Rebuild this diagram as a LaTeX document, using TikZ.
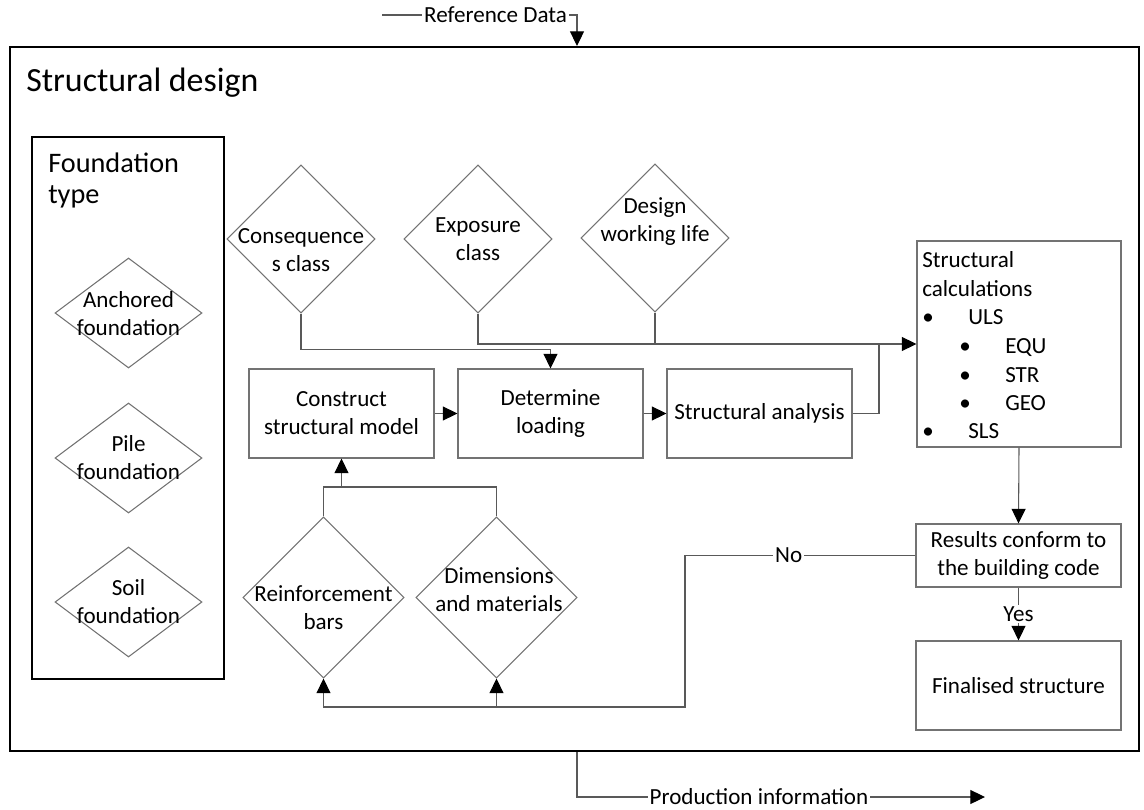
\documentclass[tikz,border=0pt]{standalone}
\usepackage{fontspec}
\setmainfont{Carlito}
\usetikzlibrary{arrows.meta,shapes.geometric}
\begin{document}
\begin{tikzpicture}[x=0.75pt,y=-0.75pt,
  body/.style={font=\fontsize{17.3}{21}\selectfont},
  lbl/.style={body,inner sep=0pt,align=center},
  frameline/.style={draw=black,line width=1.5pt},
  boxline/.style={draw=black!55,line width=0.8pt},
  wire/.style={draw=black!65,line width=0.8pt},
  arr/.style={wire,-{Triangle[length=11pt,width=10.5pt,color=black]}},
  tag/.style={lbl,fill=white,inner xsep=1.5pt},
  stepbox/.style n args={2}{rectangle,boxline,inner sep=0pt,body,align=center,
    minimum width=#1*0.75pt,minimum height=#2*0.75pt},
  dmd/.style n args={2}{diamond,boxline,inner sep=0pt,
    minimum width=#1*0.75pt,minimum height=#2*0.75pt},
  frm/.style n args={2}{rectangle,frameline,inner sep=0pt,
    minimum width=#1*0.75pt,minimum height=#2*0.75pt}]
\useasboundingbox (0,0) rectangle (1144,809);

% outer frame and foundation panel
\node[frm={1129}{704}] (frame) at (574.5,399) {};
\node[anchor=base west,inner sep=0pt,font=\fontsize{25.4}{30}\selectfont] (title) at (26,92) {Structural design};
\node[frm={192}{542}] (fbox) at (128,408) {};
\node[anchor=base west,inner sep=0pt,font=\fontsize{21.2}{24}\selectfont] (ft1) at (48,173) {Foundation};
\node[anchor=base west,inner sep=0pt,font=\fontsize{21.2}{24}\selectfont] (ft2) at (48,204) {type};

% foundation types
\node[dmd={147}{110}] (anch) at (128.5,313) {};
\node[dmd={147}{110}] (pile) at (128.5,458) {};
\node[dmd={147}{110}] (soil) at (128.5,602) {};
\node[lbl] (anchT) at (128.5,314) {Anchored\\foundation};
\node[lbl] (pileT) at (128.5,458) {Pile\\foundation};
\node[lbl] (soilT) at (128.5,602) {Soil\\foundation};

% input classes
\node[dmd={148}{148}] (cons) at (301,239) {};
\node[dmd={148}{148}] (expo) at (478,239) {};
\node[dmd={148}{148}] (life) at (655,238) {};
\node[lbl] (consT) at (301,250) {Consequence\\s class};
\node[lbl] (expoT) at (478,239) {Exposure\\class};
\node[lbl] (lifeT) at (655,222) {Design\\working life};

% main process
\node[stepbox={185}{89}] (con) at (341.5,413.5) {Construct\\structural model};
\node[stepbox={185}{89}] (det) at (550.5,413.5) {Determine\\loading};
\node[stepbox={185}{89}] (ana) at (759.5,413.5) {Structural analysis};

% calculations
\node[stepbox={204}{206}] (calc) at (1019,344) {};
\node[lbl,anchor=base west] (cl1) at (922,267) {Structural};
\node[lbl,anchor=base west] (cl2) at (922,296) {calculations};
\node[lbl,anchor=base west] (cl3) at (922,324) {\makebox[34.5pt][l]{•}ULS};
\node[lbl,anchor=base west] (cl4) at (922,353) {\hspace*{27.75pt}\makebox[34.5pt][l]{•}EQU};
\node[lbl,anchor=base west] (cl5) at (922,382) {\hspace*{27.75pt}\makebox[34.5pt][l]{•}STR};
\node[lbl,anchor=base west] (cl6) at (922,410) {\hspace*{27.75pt}\makebox[34.5pt][l]{•}GEO};
\node[lbl,anchor=base west] (cl7) at (922,438) {\makebox[34.5pt][l]{•}SLS};

% check and result
\node[stepbox={205}{63}] (res) at (1018.5,555.5) {Results conform to\\the building code};
\node[stepbox={205}{89}] (fin) at (1018.5,685.5) {Finalised structure};

% design revisions
\node[dmd={161}{161}] (reinf) at (323.5,597.5) {};
\node[dmd={161}{161}] (dim) at (496.5,597.5) {};
\node[lbl] (reinfT) at (323.5,608) {Reinforcement\\bars};
\node[lbl] (dimT) at (499,590) {Dimensions\\and materials};

% external data
\coordinate (refA) at (382,15);
\coordinate (refB) at (577,15);
\draw[arr] (refA) -- node[tag,pos=0.582] (refT) {Reference Data} (refB) -- (refB |- frame.north);
\coordinate (prA) at (577,797);
\coordinate (prB) at (985,797);
\draw[arr] (prA |- frame.south) -- (prA) -- node[tag,pos=0.446] (prT) {Production information} (prB);

% connectors
\draw[arr] (cons.south) -- ++(0,36) -| (det.north);
\coordinate (jn) at (879,344);
\draw[arr] (expo.south) |- (calc.west);
\draw[wire] (life.south) -- (life.south |- calc.west);
\draw[wire] (ana.east) -| (jn);
\draw[arr] (con.east) -- (det.west);
\draw[arr] (det.east) -- (ana.west);
\draw[arr] (calc.south) -- (res.north);
\draw[arr] (res.south) -- node[tag,inner ysep=1pt] (yes) {Yes} (fin.north);
\coordinate (noA) at (685,555.5);
\coordinate (noB) at (685,707);
\draw[arr] (res.west) -- node[tag,pos=0.55] (no) {No} (noA) -- (noB) -- (reinf.south |- noB) -- (reinf.south);
\draw[arr] (dim.south |- noB) -- (dim.south);
\coordinate (jt) at (341.5,487);
\draw[wire] (reinf.north) |- (jt) -| (dim.north);
\draw[arr] (jt) -- (con.south);
\end{tikzpicture}
\end{document}
